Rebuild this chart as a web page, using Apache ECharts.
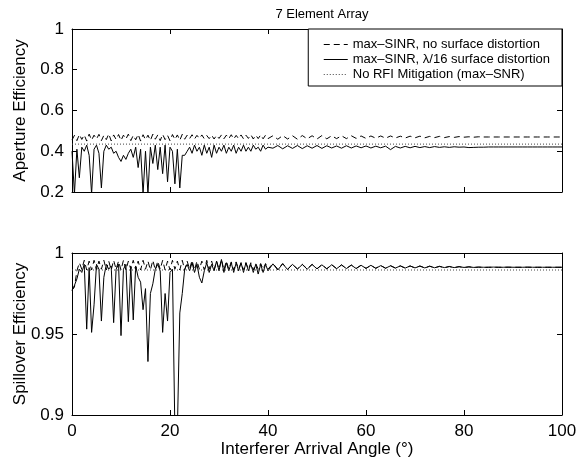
<!DOCTYPE html>
<html><head><meta charset="utf-8">
<script src="https://cdn.jsdelivr.net/npm/echarts@6/dist/echarts.min.js"></script>
<style>html,body{margin:0;padding:0;background:#fff}#c{width:577px;height:461px}</style>
</head><body><div id="c"></div><script>
const angles = [0,0.5,1,1.5,2,2.5,3,3.5,4,4.5,5,5.5,6,6.5,7,7.5,8,8.5,9,9.5,
10,10.5,11,11.5,12,12.5,13,13.5,14,14.5,15,15.5,16,16.5,17,17.5,18,18.5,19,19.5,
20,20.5,21,21.5,22,22.5,23,23.5,24,24.5,25,25.5,26,26.5,27,27.5,28,28.5,29,29.5,
30,30.5,31,31.5,32,32.5,33,33.5,34,34.5,35,35.5,36,36.5,37,37.5,38,38.5,39,39.5,40,
41,42,43,44,45,46,47,48,49,50,51,52,53,54,55,56,57,58,59,60,
61,62,63,64,65,66,67,68,69,70,71,72,73,74,75,76,77,78,79,80,
81,82,83,84,85,86,87,88,89,90,91,92,93,94,95,96,97,98,99,100];
const noRfiAngles = [0, 100];

// Aperture efficiency
const apDashed = [0.455,0.478,0.452,0.482,0.458,0.480,0.450,0.484,0.455,0.479,
0.460,0.483,0.452,0.478,0.457,0.485,0.451,0.480,0.458,0.482,
0.453,0.479,0.460,0.484,0.452,0.478,0.456,0.483,0.450,0.481,
0.457,0.479,0.453,0.484,0.459,0.480,0.452,0.483,0.457,0.478,
0.451,0.482,0.458,0.480,0.454,0.483,0.459,0.479,0.462,0.481,
0.460,0.478,0.463,0.480,0.461,0.477,0.462,0.479,0.460,0.478,
0.463,0.480,0.461,0.479,0.462,0.481,0.460,0.478,0.462,0.480,
0.461,0.479,0.463,0.481,0.460,0.479,0.462,0.480,0.461,0.479,
0.462,
0.476,0.459,0.477,0.460,0.476,0.459,0.477,0.461,0.476,0.460,
0.477,0.461,0.476,0.462,0.476,0.462,0.476,0.463,0.475,0.463,
0.475,0.464,0.475,0.464,0.475,0.465,0.474,0.465,0.474,0.466,
0.474,0.466,0.473,0.467,0.473,0.467,0.472,0.468,0.472,0.469,
0.471,0.469,0.471,0.470,0.470,0.470,0.470,0.470,0.470,0.470,
0.470,0.470,0.470,0.470,0.470,0.470,0.470,0.470,0.470,0.470];
const apSolid = [0.40,0.19,0.41,0.27,0.42,0.40,0.43,0.38,0.19,0.41,
0.43,0.39,0.22,0.40,0.43,0.41,0.42,0.39,0.40,0.37,
0.35,0.38,0.36,0.39,0.41,0.37,0.42,0.32,0.41,0.19,
0.40,0.19,0.42,0.34,0.43,0.31,0.42,0.29,0.43,0.25,
0.42,0.40,0.24,0.41,0.22,0.38,0.38,0.40,0.42,0.39,
0.43,0.40,0.42,0.38,0.43,0.39,0.42,0.37,0.43,0.39,
0.42,0.40,0.43,0.39,0.42,0.40,0.43,0.39,0.42,0.40,
0.43,0.40,0.42,0.40,0.43,0.41,0.42,0.40,0.43,0.41,
0.42,
0.415,0.428,0.412,0.427,0.414,0.428,0.413,0.427,0.415,0.428,
0.414,0.427,0.416,0.426,0.415,0.427,0.416,0.426,0.417,0.426,
0.416,0.425,0.417,0.425,0.408,0.424,0.416,0.424,0.417,0.424,
0.418,0.423,0.418,0.423,0.419,0.422,0.419,0.422,0.420,0.421,
0.418,0.419,0.420,0.420,0.421,0.421,0.421,0.421,0.421,0.421,
0.421,0.421,0.421,0.421,0.421,0.421,0.421,0.421,0.421,0.421];
const apNoRfi = [0.435, 0.435];

// Spillover efficiency
const spDashed = [0.977,0.979,0.989,0.994,0.990,0.9955,0.9895,0.995,0.9895,0.9955,
0.9895,0.995,0.990,0.9955,0.9895,0.995,0.9895,0.9955,0.990,0.995,
0.9895,0.9955,0.9895,0.995,0.990,0.9955,0.9895,0.995,0.9895,0.9955,
0.990,0.995,0.9895,0.9955,0.9895,0.995,0.990,0.9955,0.9895,0.995,
0.9895,0.9955,0.990,0.995,0.9895,0.9955,0.9895,0.995,0.990,0.9955,
0.9895,0.995,0.990,0.995,0.9895,0.9955,0.990,0.995,0.9895,0.995,
0.990,0.996,0.9895,0.995,0.990,0.9945,0.9895,0.9945,0.990,0.994,
0.9895,0.994,0.990,0.994,0.9895,0.9935,0.990,0.9935,0.990,0.9935,
0.990,
0.9935,0.990,0.9935,0.990,0.993,0.9902,0.993,0.9902,0.993,0.9903,
0.9928,0.9903,0.9928,0.9904,0.9927,0.9904,0.9926,0.9905,0.9925,0.9905,
0.9924,0.9906,0.9923,0.9906,0.9922,0.9907,0.9921,0.9907,0.992,0.9908,
0.992,0.9908,0.9919,0.9909,0.9918,0.9909,0.9917,0.991,0.9916,0.991,
0.9915,0.9911,0.9913,0.9911,0.9912,0.9912,0.9912,0.9912,0.9912,0.9912,
0.9912,0.9912,0.9912,0.9912,0.9912,0.9912,0.9912,0.9912,0.9912,0.9912];
const spSolid = [0.977,0.980,0.984,0.990,0.988,0.993,0.953,0.991,0.951,0.968,
0.993,0.990,0.958,0.985,0.993,0.990,0.992,0.957,0.990,0.993,
0.949,0.990,0.993,0.9576,0.992,0.9587,0.992,0.985,0.982,0.965,
0.978,0.933,0.975,0.981,0.990,0.993,0.989,0.951,0.975,0.958,
0.988,0.990,0.89,0.89,0.963,0.975,0.990,0.993,0.989,0.994,
0.988,0.993,0.985,0.9815,0.989,0.994,0.988,0.993,0.989,0.995,
0.989,0.996,0.988,0.994,0.989,0.994,0.988,0.994,0.989,0.994,
0.988,0.994,0.989,0.993,0.988,0.993,0.987,0.993,0.988,0.993,
0.989,
0.9933,0.9895,0.9933,0.9898,0.993,0.990,0.9929,0.990,0.9929,0.9902,
0.9927,0.9902,0.9927,0.9903,0.9926,0.9904,0.9925,0.9904,0.9924,0.9905,
0.9924,0.9905,0.9922,0.9906,0.9921,0.9907,0.992,0.9907,0.992,0.9908,
0.9919,0.9908,0.9918,0.9909,0.9917,0.991,0.9916,0.991,0.9915,0.9911,
0.9914,0.9911,0.9913,0.9912,0.9912,0.9913,0.9912,0.9912,0.9913,0.9912,
0.9912,0.9912,0.9913,0.9912,0.9912,0.9912,0.9912,0.9912,0.9912,0.9912];
const spNoRfi = [0.9895, 0.9895];

const xTicks = {min: 0, max: 100, interval: 20};
const apTicks = {min: 0.2, max: 1, interval: 0.2};
const spTicks = {min: 0.9, max: 1, interval: 0.05};

const names = ['max\u2013SINR, no surface distortion', 'max\u2013SINR, \u03bb/16 surface distortion', 'No RFI Mitigation (max\u2013SNR)'];
const FONT = 'Liberation Sans, Arial, Helvetica, sans-serif';

const pair = (xs, ys) => xs.map((x, i) => [x, ys[i]]);
const line = {show: true, onZero: false, lineStyle: {color: '#000', width: 1}};
const tick = {show: true, inside: true, length: 5, lineStyle: {color: '#000', width: 1}};
const lbl = {color: '#000', fontFamily: FONT, fontSize: 17};

function xAx(grid, pos, showLabel, extra) {
  return Object.assign({type: 'value', gridIndex: grid, position: pos, min: xTicks.min, max: xTicks.max, interval: xTicks.interval,
    axisLine: line, axisTick: tick, splitLine: {show: false},
    axisLabel: showLabel ? Object.assign({margin: 8}, lbl) : {show: false}}, extra || {});
}
function yAx(grid, pos, t, showLabel, extra) {
  return Object.assign({type: 'value', gridIndex: grid, position: pos, min: t.min, max: t.max, interval: t.interval,
    axisLine: line, axisTick: tick, splitLine: {show: false},
    axisLabel: showLabel ? Object.assign({margin: 8}, lbl) : {show: false}}, extra || {});
}
const nameStyle = {color: '#000', fontFamily: FONT, fontSize: 17};

function ser(name, xi, yi, data, type) {
  return {name, type: 'line', xAxisIndex: xi, yAxisIndex: yi, data, symbol: 'none', showSymbol: false,
    animation: false, silent: true, clip: true, color: '#000', itemStyle: {color: '#000'},
    lineStyle: {color: type === 'dotted' ? '#444' : '#000', width: 1, type: type === 'dashed' ? [6, 4] : (type === 'dotted' ? [1, 2] : 'solid')}};
}

const chart = echarts.init(document.getElementById('c'), null, {renderer: 'canvas'});
chart.setOption({
  backgroundColor: '#fff',
  animation: false,
  title: {text: '7 Element Array', left: 317, top: 3, textAlign: 'center',
    textStyle: {fontFamily: FONT, fontSize: 13, fontWeight: 'normal', color: '#000'}},
  legend: {data: names, orient: 'vertical', right: 15, top: 29, align: 'left',
    backgroundColor: '#fff', borderColor: '#000', borderWidth: 1, borderRadius: 0,
    padding: [9, 12, 5, 15], itemWidth: 24, itemHeight: 13, itemGap: 2,
    itemStyle: {opacity: 0}, lineStyle: {width: 1},
    textStyle: {fontFamily: FONT, fontSize: 13, color: '#000'}, selectedMode: false},
  grid: [
    {left: 72, top: 29, width: 490, height: 163, outerBoundsMode: 'none', containLabel: false},
    {left: 72, top: 253, width: 490, height: 162, outerBoundsMode: 'none', containLabel: false}
  ],
  xAxis: [
    xAx(0, 'bottom', false),
    xAx(0, 'top', false),
    xAx(1, 'bottom', true, {name: 'Interferer Arrival Angle (\u00b0)', nameLocation: 'middle', nameGap: 26,
      nameMoveOverlap: false, nameTextStyle: Object.assign({verticalAlign: 'top'}, nameStyle)}),
    xAx(1, 'top', false)
  ],
  yAxis: [
    yAx(0, 'left', apTicks, true, {name: 'Aperture Efficiency', nameLocation: 'middle', nameGap: 43, nameMoveOverlap: false, nameTextStyle: nameStyle}),
    yAx(0, 'right', apTicks, false),
    yAx(1, 'left', spTicks, true, {name: 'Spillover Efficiency', nameLocation: 'middle', nameGap: 43, nameMoveOverlap: false, nameTextStyle: nameStyle}),
    yAx(1, 'right', spTicks, false)
  ],
  series: [
    ser(names[0], 0, 0, pair(angles, apDashed), 'dashed'),
    ser(names[1], 0, 0, pair(angles, apSolid), 'solid'),
    ser(names[2], 0, 0, pair(noRfiAngles, apNoRfi), 'dotted'),
    ser(names[0], 2, 2, pair(angles, spDashed), 'dashed'),
    ser(names[1], 2, 2, pair(angles, spSolid), 'solid'),
    ser(names[2], 2, 2, pair(noRfiAngles, spNoRfi), 'dotted')
  ]
});
</script></body></html>
